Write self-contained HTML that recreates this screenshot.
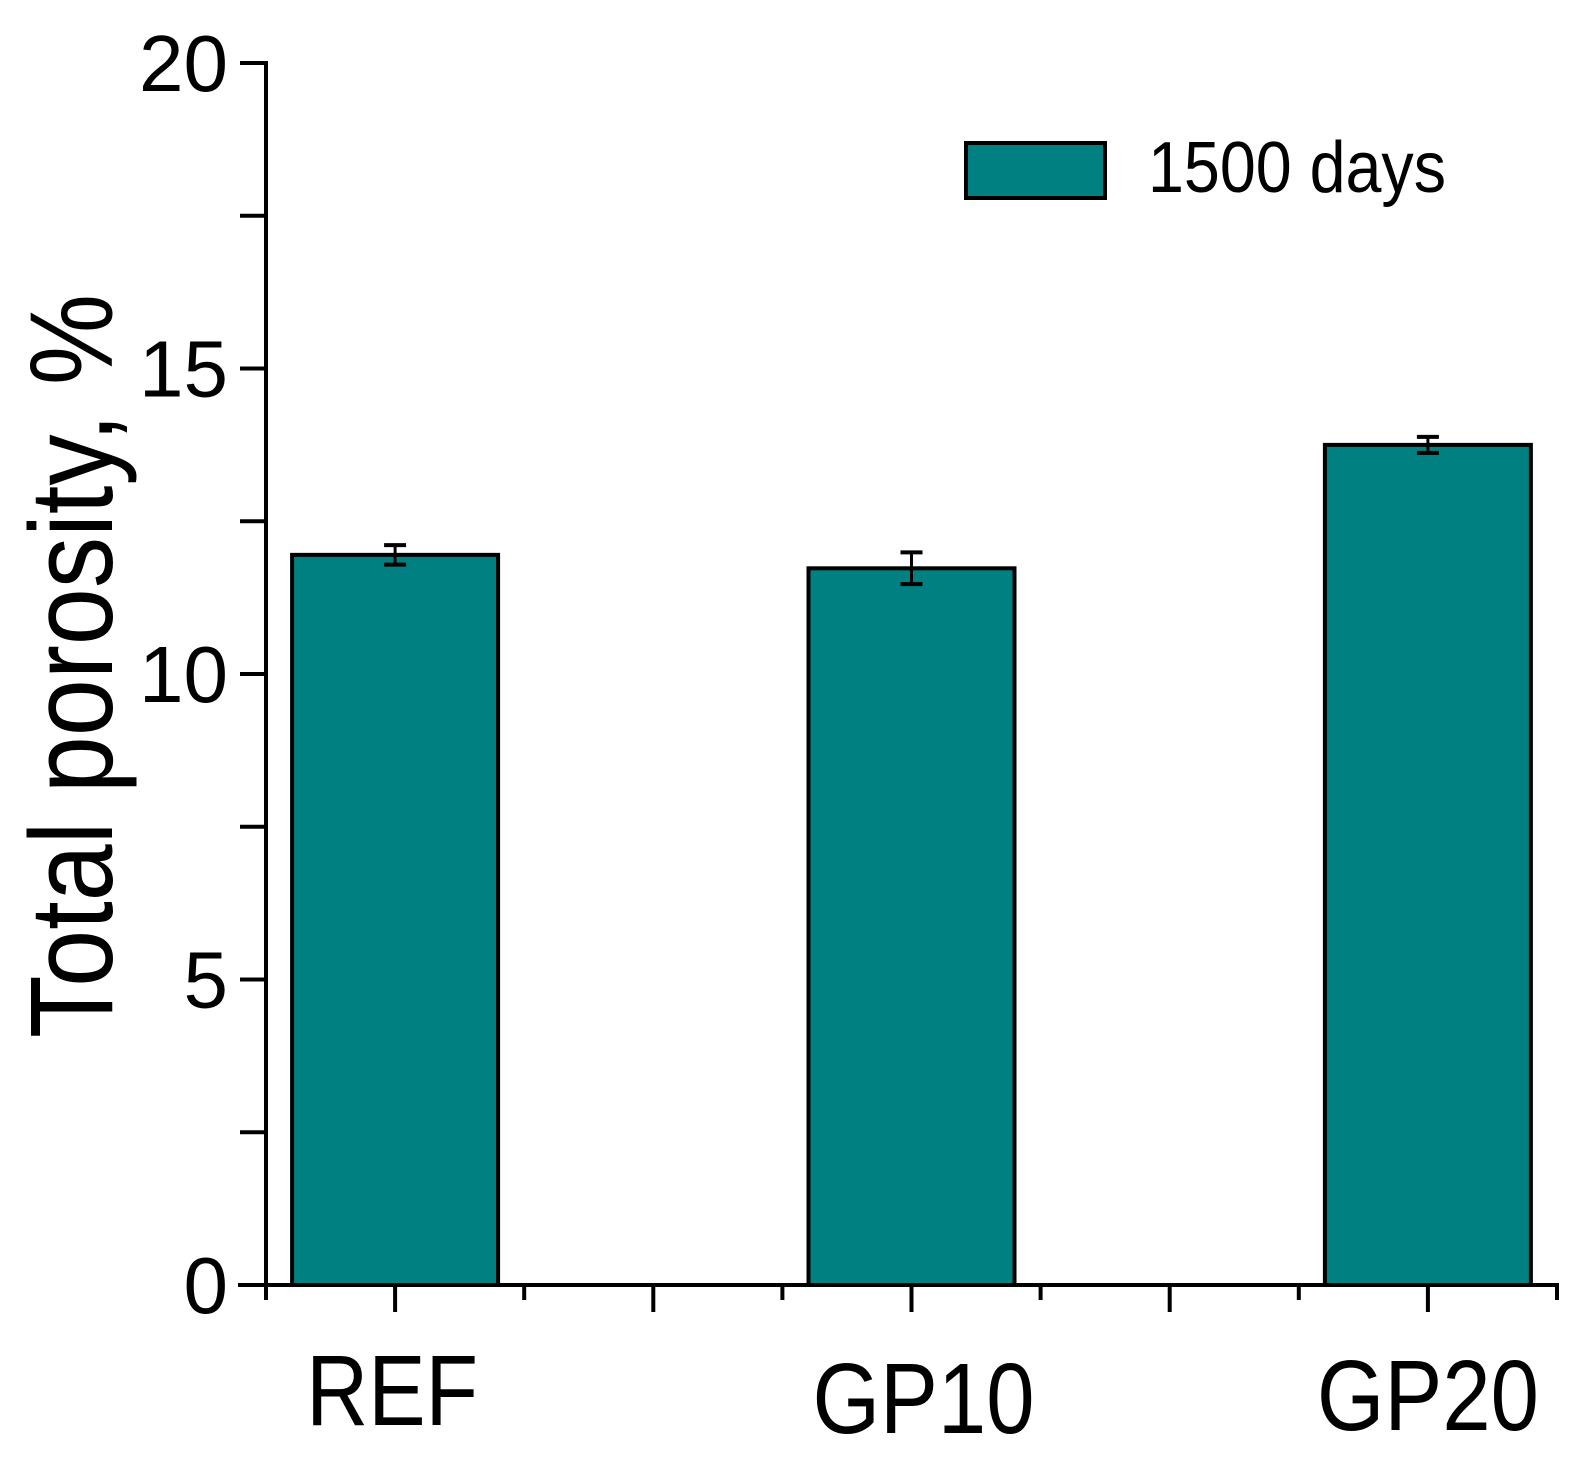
<!DOCTYPE html>
<html><head><meta charset="utf-8"><style>html,body{margin:0;padding:0;background:#fff}svg{display:block}text{font-family:"Liberation Sans",Arial,sans-serif;fill:#000}</style></head>
<body>
<svg id="chart" width="1589" height="1465" viewBox="0 0 1589 1465" xmlns="http://www.w3.org/2000/svg"></svg>
<script>
const categories = ["REF", "GP10", "GP20"];
const values = [11.95, 11.73, 13.75];
const errors = [0.16, 0.26, 0.13];
const yTickLabels = ["0", "5", "10", "15", "20"];
const yTickValues = [0, 5, 10, 15, 20];
const legendLabel = "1500 days";

const NS = "http://www.w3.org/2000/svg";
const svg = document.getElementById("chart");
const X0 = 266, X1 = 1557, Y0 = 1285, Y1 = 63, YMAX = 20;
function yScale(v){ return Y0 - (v / YMAX) * (Y0 - Y1); }
const slot = (X1 - X0) / 10;
function xCenter(i){ return X0 + slot * (1 + 4 * i); }
const barW = 206;
function mk(tag, attrs, parent){ const e = document.createElementNS(NS, tag); for (const k in attrs) e.setAttribute(k, attrs[k]); (parent||svg).appendChild(e); return e; }

categories.forEach((c, i) => {
  const cx = xCenter(i), top = yScale(values[i]);
  const r = mk("rect", {x: cx - barW/2, y: top, width: barW, height: Y0 - top, fill: "#008080", stroke: "#000", "stroke-width": 4});
  
  
  const g = mk("g", {stroke: "#000", "stroke-width": 3});
  
  
  const yh = yScale(values[i] + errors[i]), yl = yScale(values[i] - errors[i]);
  mk("line", {x1: cx, x2: cx, y1: yh, y2: yl}, g);
  mk("line", {x1: cx - 11, x2: cx + 11, y1: yh, y2: yh, "stroke-width": 4}, g);
  mk("line", {x1: cx - 11, x2: cx + 11, y1: yl, y2: yl, "stroke-width": 4}, g);
  const t = mk("text", {x: cx + [-3, 12, 0][i], y: [1425, 1433, 1430][i], "font-size": 100, "text-anchor": "middle", textLength: [172, 222, 222][i], lengthAdjust: "spacingAndGlyphs"});
  t.textContent = c;
  
  
});

const ya = mk("g", {stroke: "#000", "stroke-width": 4});


mk("line", {x1: X0, x2: X0, y1: Y1 - 2, y2: Y0 + 2}, ya);
for (let v = 0; v <= YMAX; v += 2.5) {
  const y = yScale(v);
  mk("line", {x1: X0 - 26, x2: X0, y1: y, y2: y}, ya);
}
yTickValues.forEach((v, i) => {
  const t = mk("text", {x: 228, y: yScale(v) + 28, "font-size": 80, "text-anchor": "end"});
  t.textContent = yTickLabels[i];
  
  
});

const xa = mk("g", {stroke: "#000", "stroke-width": 4});


mk("line", {x1: X0 - 28, x2: X1 + 2, y1: Y0, y2: Y0}, xa);
for (let k = 0; k <= 10; k++) {
  const x = X0 + slot * k;
  mk("line", {x1: x, x2: x, y1: Y0, y2: Y0 + (k % 2 ? 27 : 15)}, xa);
}

const yt = mk("text", {transform: "translate(112,666) rotate(-90)", "font-size": 118, "text-anchor": "middle", textLength: 744, lengthAdjust: "spacingAndGlyphs"});
yt.textContent = "Total porosity, %";



const lg = mk("g", {});


mk("rect", {x: 966, y: 143, width: 139, height: 55, fill: "#008080", stroke: "#000", "stroke-width": 4}, lg);
const lt = mk("text", {x: 1148, y: 192, "font-size": 72, textLength: 298, lengthAdjust: "spacingAndGlyphs"}, lg);
lt.textContent = legendLabel;
</script>
</body></html>
